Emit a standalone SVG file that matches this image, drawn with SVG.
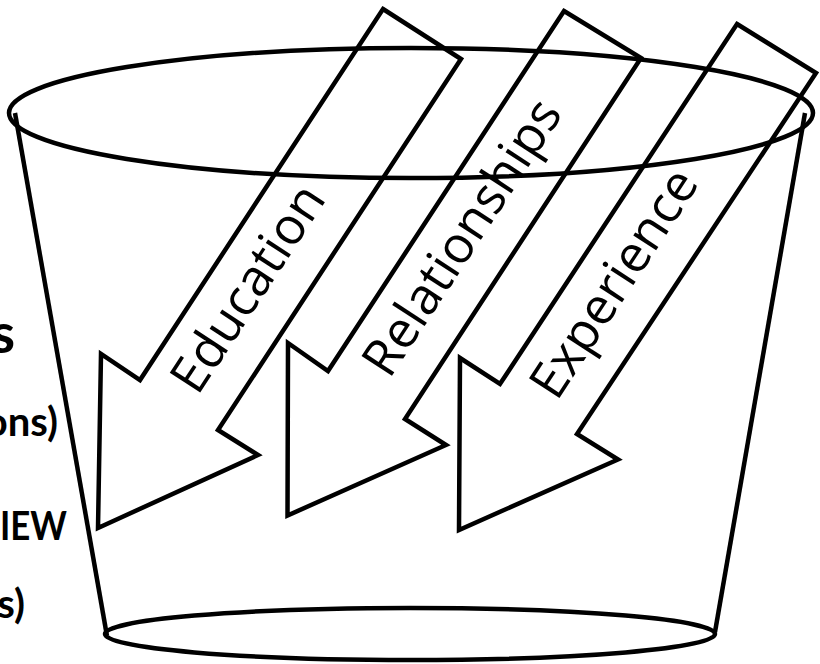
<svg xmlns="http://www.w3.org/2000/svg" width="820" height="664" viewBox="0 0 820 664">
<style>
.ln{fill:none;stroke:#000;stroke-width:4.5;stroke-linejoin:miter;stroke-miterlimit:10;}
.lbl{font-family:"Open Sans","Noto Sans",sans-serif;font-size:51px;fill:#000;}
.side{font-family:Lato,"Open Sans",sans-serif;font-weight:bold;font-size:40px;fill:#000;}
</style>
<rect width="820" height="664" fill="#fff"/>
<g id="side-text">
  <text class="side" x="15" y="353" text-anchor="end" style="font-size:56px">s</text>
  <text class="side" x="58" y="436" text-anchor="end">ons)</text>
  <text class="side" x="0" y="540" textLength="67" lengthAdjust="spacingAndGlyphs">IEW</text>
  <text class="side" x="25" y="618" text-anchor="end">s)</text>
</g>
<g id="bucket">
  <ellipse class="ln" cx="411" cy="113" rx="402" ry="65"/>
  <line class="ln" x1="15" y1="113" x2="107" y2="636"/>
  <line class="ln" x1="805" y1="113" x2="715" y2="632"/>
  <ellipse class="ln" cx="410" cy="634" rx="305" ry="26"/>
</g>
<g id="arrow-education">
  <polygon class="ln" points="383,9 461,59 218,430 258,455 98,528 101,354 140,380"/>
  <text class="lbl" transform="translate(249,289) rotate(-56.8)" x="0" y="16" text-anchor="middle">Education</text>
</g>
<g id="arrow-relationships">
  <polygon class="ln" points="564,11 641,58 405,419 446,445 287.5,515.5 288,343 328,371"/>
  <text class="lbl" transform="translate(463,238) rotate(-56.8)" x="0" y="16" text-anchor="middle">Relationships</text>
</g>
<g id="arrow-experience">
  <polygon class="ln" points="737,24 816,73 577,434 618,459.5 459,530 460,358 500,384"/>
  <text class="lbl" transform="translate(615,284) rotate(-56.8)" x="0" y="16" text-anchor="middle">Experience</text>
</g>
</svg>
